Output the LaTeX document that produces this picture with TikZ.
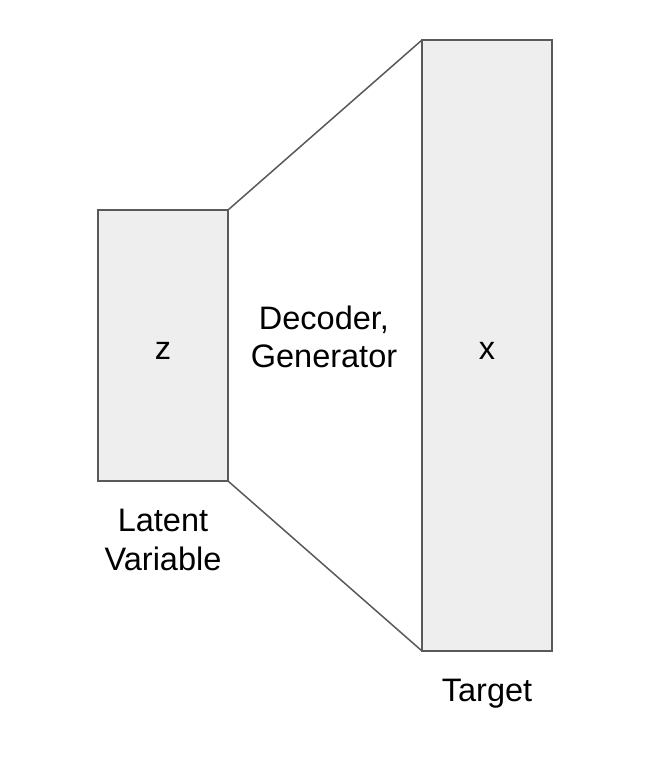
\documentclass[tikz,border=0pt]{standalone}
\usepackage{fontspec}
\setmainfont{Liberation Sans}
\definecolor{boxgray}{HTML}{EEEEEE}
\definecolor{edgegray}{HTML}{595959}
\tikzset{
  layer/.style={draw=edgegray, fill=boxgray, line width=1.5pt, outer sep=0pt, inner sep=0pt},
  label/.style={align=center, font=\fontsize{32.5}{38.5}\selectfont}
}
\begin{document}
\begin{tikzpicture}[x=1pt, y=-1pt]
        \useasboundingbox (0, 0) rectangle (666, 760);
        \node [layer, minimum width=130pt, minimum height=271pt] (zbox) at (163, 345.5) {};
        \node [layer, minimum width=130pt, minimum height=611pt] (xbox) at (487, 345.5) {};
        \node [label] (zlabel) at (163, 351) {z};
        \node [label] (xlabel) at (487, 351) {x};
        \draw [edgegray, line width=1.5pt] (zbox.north east) -- (xbox.north west);
        \draw [edgegray, line width=1.5pt] (zbox.south east) -- (xbox.south west);
        \node [label] (decoder) at (324, 337) {Decoder,\\Generator};
        \node [label] (latent) at (163, 540) {Latent\\Variable};
        \node [label] (target) at (487, 694) {Target};
      \end{tikzpicture}
\end{document}
